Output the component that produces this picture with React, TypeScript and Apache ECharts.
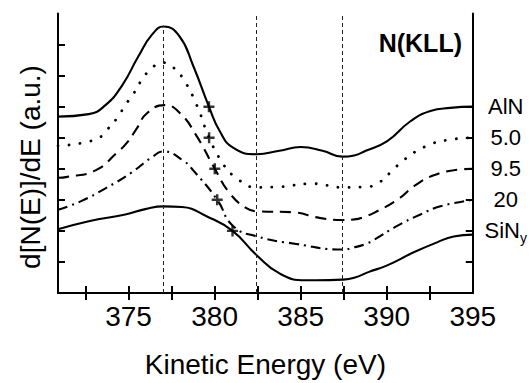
import { useEffect, useRef } from "react";
import * as echarts from "echarts";

// Energy axis (eV)
const ENERGY_MIN = 370.9;
const ENERGY_MAX = 395;
const energyTicks = [372.5, 375, 377.5, 380, 382.5, 385, 387.5, 390, 392.5];
const energyLabels = [375, 380, 385, 390, 395];

// Intensity axis (arbitrary units, curves stacked with offsets)
const INTENSITY_MAX = 9;
const leftTicks = [1, 2, 3, 4, 5, 6, 7, 8];
const rightTicks = [1, 2, 3, 4, 5, 6];

// Samples, from top to bottom, and the baseline offset of each trace
const sampleNames = ["AlN", "5.0", "9.5", "20", "SiNy"];
const sampleOffsets = [6, 5, 4, 3, 2];

// d[N(E)]/dE traces: [kinetic energy (eV), offset intensity]
const alnCurve = [
  [370.9, 5.68], [372.69, 5.76], [373.66, 6.05], [374.62, 6.68], [375.58, 7.63],
  [376.35, 8.31], [377.03, 8.58], [377.95, 8.27], [378.76, 7.31],
  [379.67, 6.0], [380.3, 5.21], [381.07, 4.68], [382.44, 4.47], [383.77, 4.58],
  [385.0, 4.7], [386.27, 4.58], [387.43, 4.39], [388.11, 4.43], [388.78, 4.58],
  [390.03, 4.89], [391.38, 5.53], [392.54, 5.86], [393.7, 5.96], [395, 6.0],
];
const sample50Curve = [
  [370.9, 4.74], [373.08, 4.94], [373.75, 5.26], [374.33, 5.63], [374.81, 6.05],
  [375.29, 6.42], [375.68, 6.79], [376.26, 7.19], [376.97, 7.42], [377.6, 7.26],
  [378.18, 6.89], [378.96, 6.05], [379.68, 5.0], [380.49, 4.16], [381.07, 3.79],
  [382.46, 3.4], [383.77, 3.42], [385.7, 3.52], [387.43, 3.4], [388.78, 3.42],
  [389.45, 3.52], [390.23, 3.89], [390.99, 4.28], [392.34, 4.74], [393.7, 4.94],
  [395, 5.0],
];
const sample95Curve = [
  [370.9, 3.71], [371.44, 3.74], [373.08, 3.95], [374.33, 4.52], [374.91, 4.84],
  [375.49, 5.31], [376.07, 5.79], [377.1, 6.05], [377.99, 5.79], [378.96, 5.05],
  [380.01, 4.0], [380.88, 3.21], [381.85, 2.73], [382.46, 2.63], [384.54, 2.6],
  [386.08, 2.42], [387.43, 2.35], [388.11, 2.37], [388.78, 2.47], [389.26, 2.58],
  [390.61, 3.0], [391.67, 3.47], [392.73, 3.79], [393.89, 3.95], [395, 4.0],
];
const sample20Curve = [
  [370.9, 2.68], [372.21, 2.95], [373.66, 3.37], [375.2, 3.89], [376.35, 4.37],
  [377.03, 4.56], [378.18, 4.26], [378.76, 3.95], [380.15, 3.0], [381.07, 2.16],
  [382.46, 1.82], [384.74, 1.58], [387.43, 1.4], [388.11, 1.47], [388.78, 1.58],
  [389.26, 1.71], [390.61, 2.16], [391.96, 2.53], [393.12, 2.79], [395, 3.0],
];
const sinCurve = [
  [370.9, 2.05], [372.69, 2.31], [374.81, 2.53], [375.97, 2.7], [377.03, 2.79],
  [378.1, 2.77], [379.53, 2.47], [381.04, 2.0], [382.46, 1.21], [383.77, 0.63],
  [385.3, 0.41], [385.9, 0.41], [387.43, 0.43], [388.11, 0.49],
  [388.97, 0.68], [390.03, 0.89], [391.57, 1.31], [392.92, 1.63], [393.89, 1.82],
  [395, 1.88],
];

// Energies where each trace crosses its baseline (marked with "+")
const crossEnergies = [379.67, 379.68, 380.01, 380.15, 381.04];

// Vertical reference energies (eV)
const referenceEnergies = [377.0, 382.42, 387.43];

const FONT = '"Liberation Sans", Arial, Helvetica, sans-serif';
const INK = "#000";

const CROSS_PATH = "path://M3.9,0H6.1V10H3.9Z M0,3.9H10V6.1H0Z";

export default function App() {
  const ref = useRef<HTMLDivElement | null>(null);

  useEffect(() => {
    if (!ref.current) return;
    const chart = echarts.init(ref.current, undefined, { renderer: "svg" });

    const curves = [alnCurve, sample50Curve, sample95Curve, sample20Curve, sinCurve];
    const dashStyles: (string | number[])[] = [
      "solid",
      [0.1, 11],
      [11, 7],
      [10, 5, 2, 5],
      "solid",
    ];

    const alnPeak = Math.max(...alnCurve.map((p) => p[1]));
    const refLineTops = referenceEnergies.map((e, i) => (i === 0 ? alnPeak : INTENSITY_MAX));

    const lineSeries = curves.map((data, i) => ({
      name: sampleNames[i],
      type: "line",
      data,
      smooth: 0.5,
      showSymbol: false,
      symbol: "none",
      lineStyle: {
        color: INK,
        width: i === 1 ? 2.8 : 2.1,
        type: dashStyles[i],
        cap: i === 1 ? "round" : "butt",
      },
      z: 3,
      ...(i === 0
        ? {
            markLine: {
              silent: true,
              symbol: "none",
              label: { show: false },
              lineStyle: { color: "#222", width: 1, type: [4, 3] },
              data: referenceEnergies.map((e, k) => [
                { coord: [e, 0] },
                { coord: [e, refLineTops[k]] },
              ]),
            },
          }
        : {}),
    }));

    const crossSeries = {
      name: "crossings",
      type: "scatter",
      data: crossEnergies.map((e, i) => [e, sampleOffsets[i]]),
      symbol: CROSS_PATH,
      symbolSize: 11,
      itemStyle: { color: INK },
      z: 5,
    };

    const labelByOffset: Record<number, string> = {};
    sampleOffsets.forEach((v, i) => {
      const name = sampleNames[i];
      labelByOffset[v] = name === "SiNy" ? "{m|SiN}{s|y}" : `{m|${name}}`;
    });

    const axisLine = { show: true, lineStyle: { color: INK, width: 2 } };

    chart.setOption({
      animation: false,
      backgroundColor: "#fff",
      grid: { left: 58, right: 56, top: 13.5, bottom: 85 },
      xAxis: [
        {
          type: "value",
          position: "bottom",
          min: ENERGY_MIN,
          max: ENERGY_MAX,
          axisLine,
          splitLine: { show: false },
          axisTick: {
            show: true,
            inside: true,
            length: 7,
            lineStyle: { color: INK, width: 2 },
            customValues: energyTicks,
          },
          axisLabel: {
            show: true,
            customValues: energyLabels,
            showMaxLabel: true,
            margin: 9,
            color: INK,
            fontSize: 28,
            fontFamily: FONT,
          },
          name: "Kinetic Energy (eV)",
          nameLocation: "middle",
          nameGap: 57,
          nameTextStyle: { color: INK, fontSize: 28, fontFamily: FONT },
        },
        {
          type: "value",
          position: "top",
          min: ENERGY_MIN,
          max: ENERGY_MAX,
          axisLine,
          splitLine: { show: false },
          axisTick: {
            show: true,
            inside: true,
            length: 7,
            lineStyle: { color: INK, width: 2 },
            customValues: energyTicks,
          },
          axisLabel: { show: false },
        },
      ],
      yAxis: [
        {
          type: "value",
          position: "left",
          min: 0,
          max: INTENSITY_MAX,
          axisLine,
          splitLine: { show: false },
          axisTick: {
            show: true,
            inside: true,
            length: 7,
            lineStyle: { color: INK, width: 2 },
            customValues: leftTicks,
          },
          axisLabel: { show: false },
        },
        {
          type: "value",
          position: "right",
          min: 0,
          max: INTENSITY_MAX,
          axisLine,
          splitLine: { show: false },
          axisTick: {
            show: true,
            inside: true,
            length: 7,
            lineStyle: { color: INK, width: 2 },
            customValues: rightTicks,
          },
          axisLabel: {
            show: true,
            customValues: sampleOffsets,
            align: "center",
            margin: 33,
            formatter: (v: number) => labelByOffset[v] ?? "",
            rich: {
              m: { fontSize: 22, fontFamily: FONT, color: INK },
              s: { fontSize: 14, fontFamily: FONT, color: INK, padding: [14, 0, 0, 0] },
            },
          },
        },
      ],
      graphic: [
        {
          type: "text",
          x: 30,
          y: 167,
          rotation: Math.PI / 2,
          style: {
            text: "d[N(E)]/dE (a.u.)",
            fontSize: 28,
            fontFamily: FONT,
            fill: INK,
            align: "center",
            verticalAlign: "middle",
          },
        },
        {
          type: "text",
          x: 462,
          y: 43,
          style: {
            text: "N(KLL)",
            fontSize: 25,
            fontWeight: "bold",
            fontFamily: FONT,
            fill: INK,
            align: "right",
            verticalAlign: "middle",
          },
        },
      ],
      series: [...lineSeries, crossSeries],
    });

    return () => chart.dispose();
  }, []);

  return (
    <div
      ref={ref}
      style={{ position: "fixed", left: 0, top: 0, width: 530, height: 383 }}
    />
  );
}
